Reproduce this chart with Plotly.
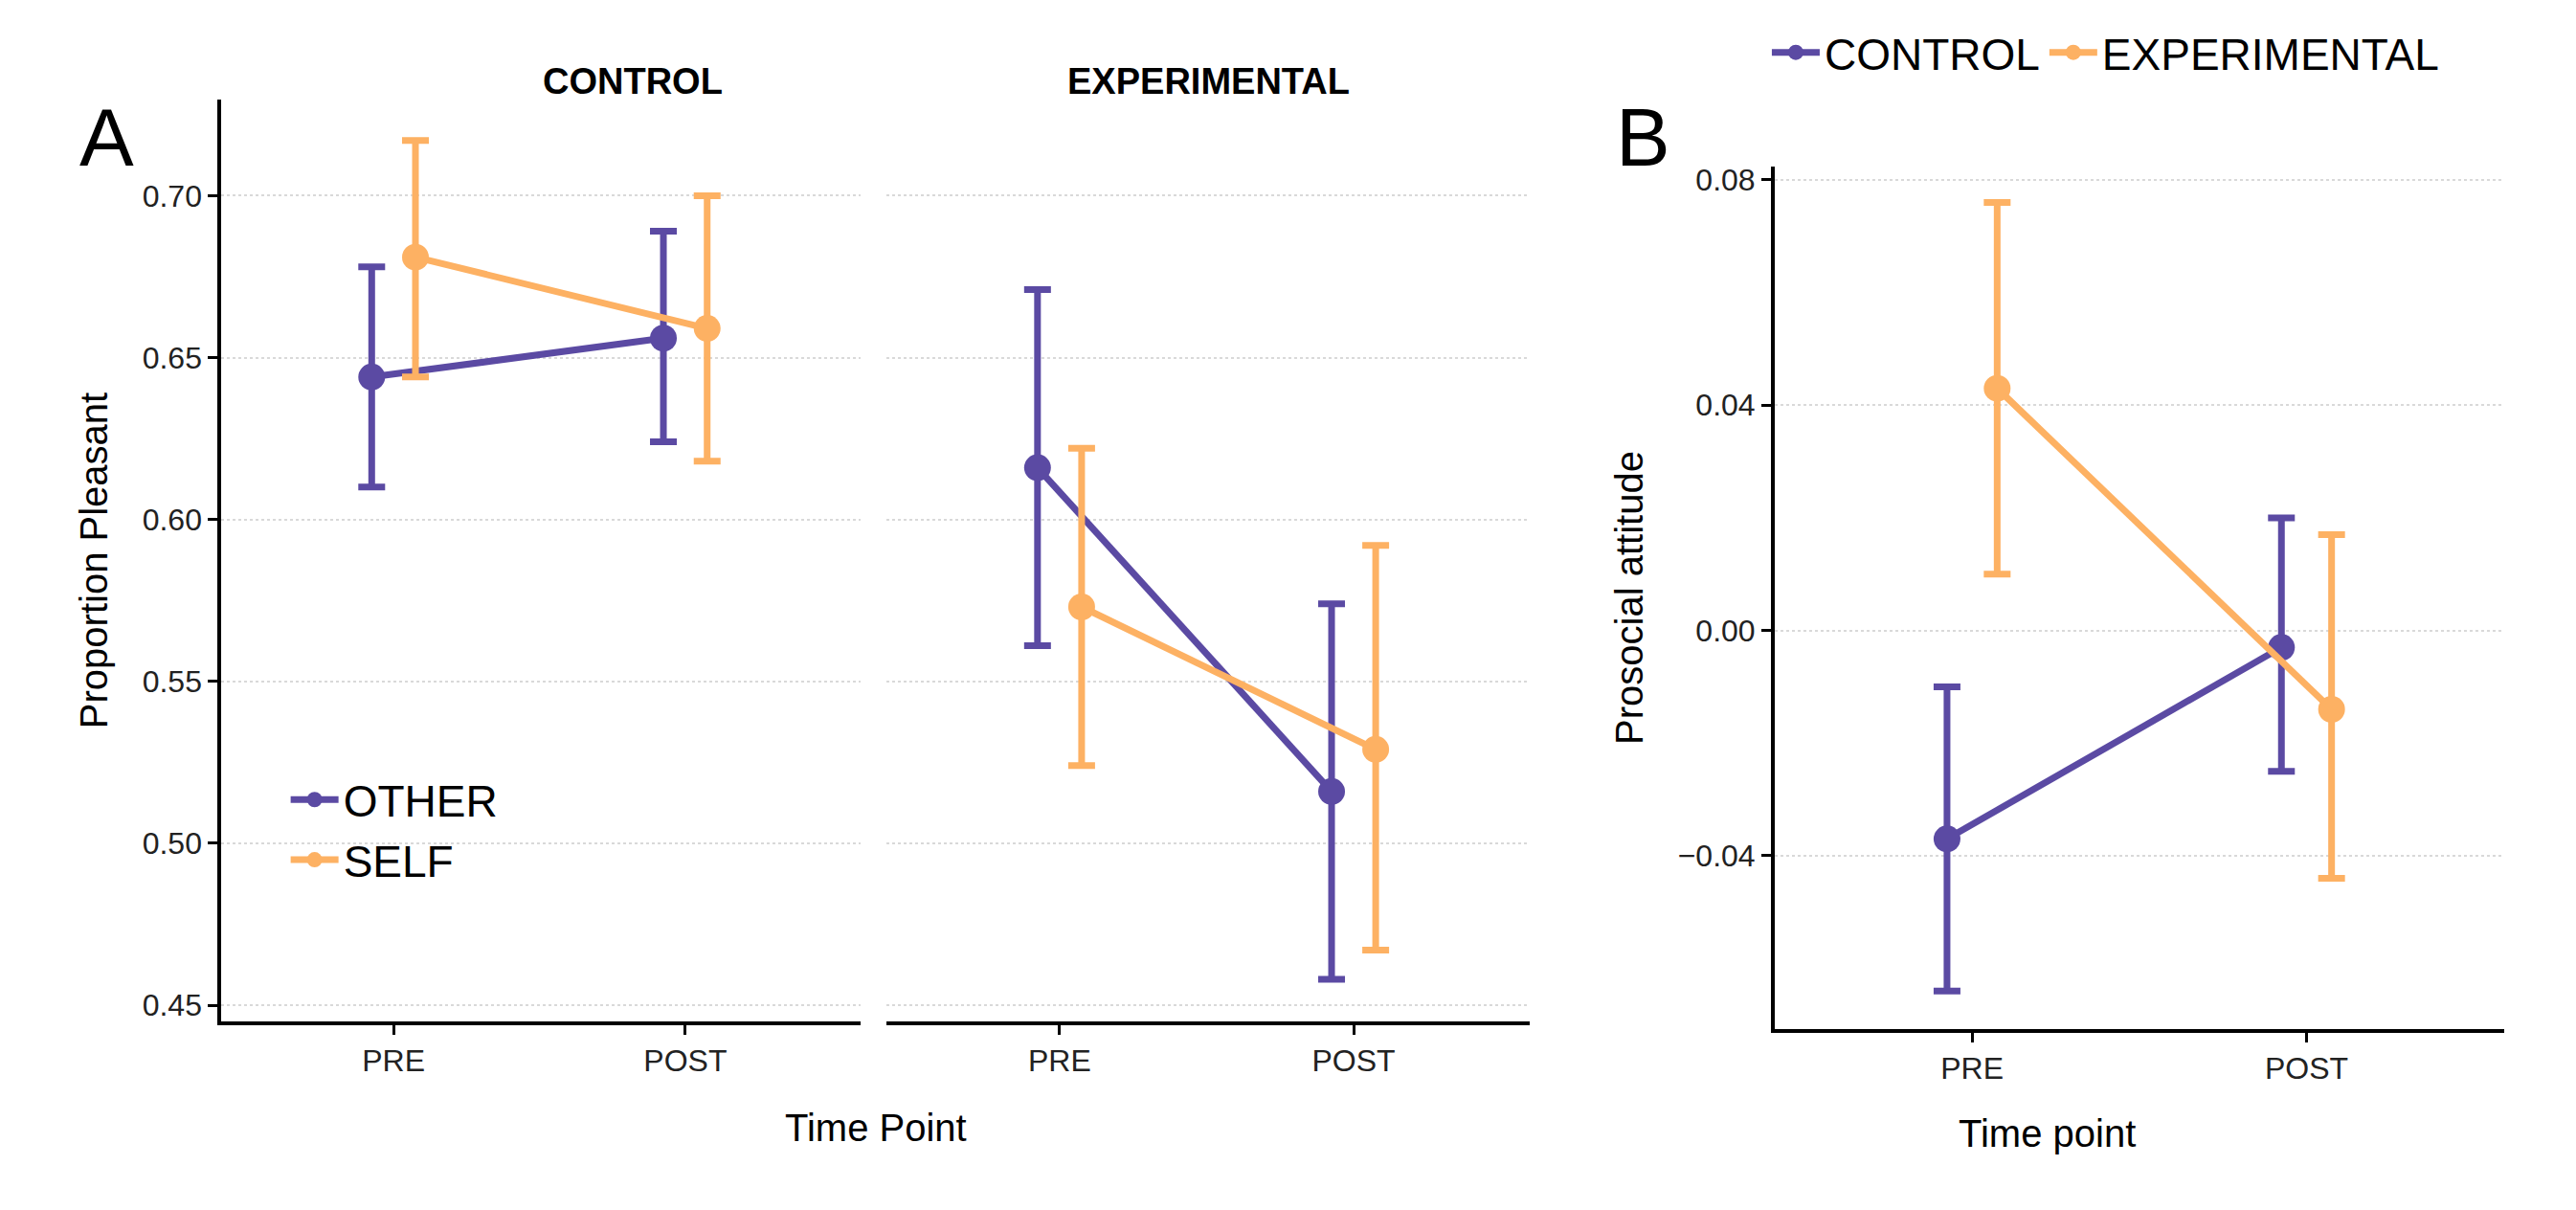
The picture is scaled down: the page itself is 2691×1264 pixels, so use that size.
import plotly.graph_objects as go

# panel A: proportion pleasant
timepoints = ["PRE", "POST"]
ctrl_other = [0.644, 0.656]
ctrl_other_lo = [0.610, 0.624]
ctrl_other_hi = [0.678, 0.689]
ctrl_self = [0.681, 0.659]
ctrl_self_lo = [0.644, 0.618]
ctrl_self_hi = [0.717, 0.700]
exp_other = [0.616, 0.516]
exp_other_lo = [0.561, 0.458]
exp_other_hi = [0.671, 0.574]
exp_self = [0.573, 0.529]
exp_self_lo = [0.524, 0.467]
exp_self_hi = [0.622, 0.592]

# panel B: prosocial attitude
b_control = [-0.037, -0.003]
b_control_lo = [-0.064, -0.025]
b_control_hi = [-0.010, 0.020]
b_exp = [0.043, -0.014]
b_exp_lo = [0.010, -0.044]
b_exp_hi = [0.076, 0.017]

PURPLE = "#5B4AA3"
ORANGE = "#FDB163"
dodge = 0.075
base = [1, 2]

fig = go.Figure()

def add(y, lo, hi, shift, color, name, xa, ya, legend, show):
    xs = [b + shift for b in base]
    fig.add_trace(go.Scatter(
        x=xs, y=y, mode="lines+markers", name=name,
        line=dict(color=color, width=7), marker=dict(color=color, size=28),
        error_y=dict(type="data", symmetric=False,
                     array=[h - v for h, v in zip(hi, y)],
                     arrayminus=[v - l for v, l in zip(y, lo)],
                     color=color, thickness=7, width=14),
        xaxis=xa, yaxis=ya, legend=legend, showlegend=show))

add(ctrl_other, ctrl_other_lo, ctrl_other_hi, -dodge, PURPLE, "OTHER", "x", "y", "legend", True)
add(ctrl_self, ctrl_self_lo, ctrl_self_hi, dodge, ORANGE, "SELF", "x", "y", "legend", True)
add(exp_other, exp_other_lo, exp_other_hi, -dodge, PURPLE, "OTHER", "x2", "y2", "legend", False)
add(exp_self, exp_self_lo, exp_self_hi, dodge, ORANGE, "SELF", "x2", "y2", "legend", False)
add(b_control, b_control_lo, b_control_hi, -dodge, PURPLE, "CONTROL", "x3", "y3", "legend2", True)
add(b_exp, b_exp_lo, b_exp_hi, dodge, ORANGE, "EXPERIMENTAL", "x3", "y3", "legend2", True)

tickfont = dict(size=32, color="#222222")
xcommon = dict(range=[0.41, 2.6], tickvals=base, ticktext=timepoints, showline=True,
               linecolor="black", linewidth=4, ticks="outside", ticklen=10,
               tickcolor="black", tickwidth=3, showgrid=False, zeroline=False, tickfont=tickfont)
ycommon = dict(showgrid=True, gridcolor="#D9D9D9", griddash="dot", gridwidth=2,
               zeroline=False, tickfont=tickfont, ticks="outside", ticklen=10,
               tickcolor="black", tickwidth=3)

fig.update_layout(
    width=2691, height=1264, plot_bgcolor="white", paper_bgcolor="white",
    font=dict(family="Liberation Sans, Arial, sans-serif", color="black"),
    margin=dict(l=0, r=0, t=0, b=0),
    xaxis=dict(domain=[0.083, 0.331], anchor="y", **xcommon),
    xaxis2=dict(domain=[0.341, 0.591], anchor="y2", **xcommon),
    xaxis3=dict(domain=[0.686, 0.969], anchor="y3", **{**xcommon, "range": [0.41, 2.59]}),
    yaxis=dict(domain=[0.162, 0.927], range=[0.445, 0.7297], tickvals=[0.45, 0.5, 0.55, 0.6, 0.65, 0.7],
               tickformat=".2f", showline=True, linecolor="black", linewidth=4, anchor="x",
               title=dict(text="Proportion Pleasant", font=dict(size=40), standoff=25), **ycommon),
    yaxis2=dict(domain=[0.162, 0.927], range=[0.445, 0.7297], tickvals=[0.45, 0.5, 0.55, 0.6, 0.65, 0.7],
                showticklabels=False, ticks="", showline=False, anchor="x2",
                **{k: v for k, v in ycommon.items() if k not in ("ticks",)}),
    yaxis3=dict(domain=[0.156, 0.871], range=[-0.0707, 0.0823], tickvals=[-0.04, 0, 0.04, 0.08],
                ticktext=["\u22120.04", "0.00", "0.04", "0.08"], showline=True, linecolor="black",
                linewidth=4, anchor="x3",
                title=dict(text="Prosocial attitude", font=dict(size=40), standoff=25), **ycommon),
    legend=dict(x=0.108, y=0.375, xanchor="left", yanchor="top", bgcolor="rgba(0,0,0,0)",
                font=dict(size=46), itemwidth=50),
    legend2=dict(x=0.683, y=0.995, xanchor="left", yanchor="top", orientation="h",
                 bgcolor="rgba(0,0,0,0)", font=dict(size=46), itemwidth=50),
)

ann = [
    dict(text="<b>CONTROL</b>", x=0.207, y=0.96, size=38),
    dict(text="<b>EXPERIMENTAL</b>", x=0.466, y=0.96, size=38),
    dict(text="Time Point", x=0.337, y=0.055, size=40),
    dict(text="Time point", x=0.827, y=0.05, size=40),
    dict(text="A", x=0.027, y=0.935, size=85),
    dict(text="B", x=0.635, y=0.935, size=85),
]
for a in ann:
    fig.add_annotation(text=a["text"], x=a["x"], y=a["y"], xref="paper", yref="paper",
                       showarrow=False, font=dict(size=a["size"], color="black"))

fig.write_html("out.html")
